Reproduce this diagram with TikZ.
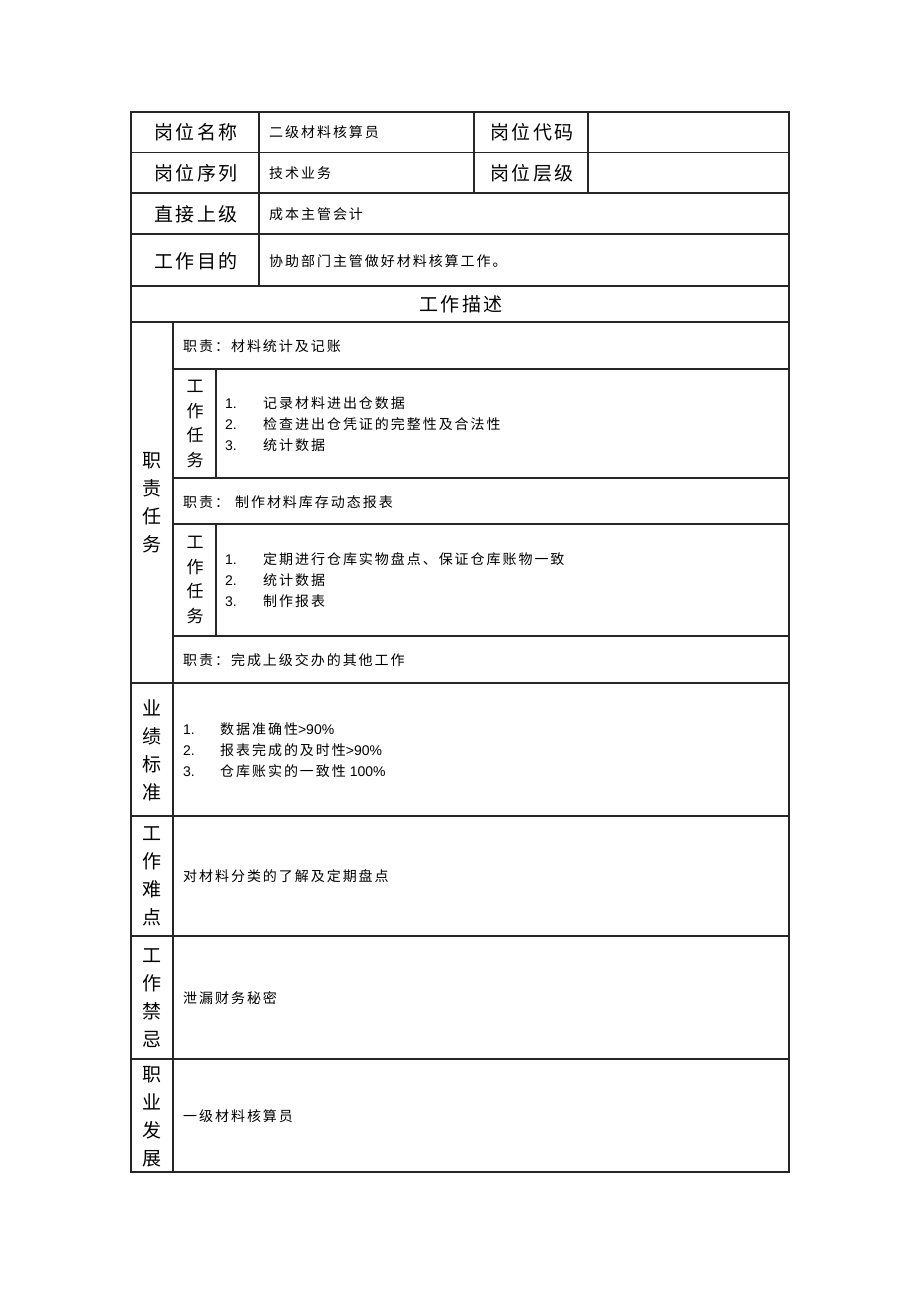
\documentclass[tikz,border=0pt]{standalone}
\usepackage{fontspec}
\setmainfont{Liberation Sans}
\newfontfamily\cjk[LetterSpace=11]{Noto Sans CJK SC}
\newfontfamily\cjkb[LetterSpace=14]{Noto Sans CJK SC}
\begin{document}
\begin{tikzpicture}[x=1pt,y=-1pt,
  grid/.style={line width=1.3pt, draw=black!85},
  lab/.style={font=\cjk\fontsize{19}{22}\selectfont, inner sep=0pt},
  txt/.style={font=\cjkb\fontsize{14}{21}\selectfont, anchor=west, inner sep=0pt},
  lst/.style={font=\fontsize{14}{21}\selectfont, anchor=west, inner sep=0pt, align=left},
  vlab/.style={font=\cjk\fontsize{19}{28}\selectfont, align=center, inner sep=0pt},
  vlabs/.style={font=\cjk\fontsize{17}{24.5}\selectfont, align=center, inner sep=0pt}]
\useasboundingbox (0,0) rectangle (920,1302);
% grid
\draw[grid] (131,112) rectangle (789,1172);
\foreach \yy in {152.5,193,234,286,322,683,816,936,1059}
  \draw[grid] (131,\yy) -- (789,\yy);
\foreach \yy in {369,478,524,636}
  \draw[grid] (173,\yy) -- (789,\yy);
\draw[grid] (259,112) -- (259,286);
\draw[grid] (474,112) -- (474,193);
\draw[grid] (588,112) -- (588,193);
\draw[grid] (173,322) -- (173,1172);
\draw[grid] (216,369) -- (216,478);
\draw[grid] (216,524) -- (216,636);
% header labels
\node[lab] (l1) at (196,132) {岗位名称};
\node[lab] (l2) at (196,173) {岗位序列};
\node[lab] (l3) at (196,214) {直接上级};
\node[lab] (l4) at (196,261) {工作目的};
\node[lab] (l5) at (532,132) {岗位代码};
\node[lab] (l6) at (532,173) {岗位层级};
\node[txt] (t1) at (269,132) {二级材料核算员};
\node[txt] (t2) at (269,173) {技术业务};
\node[txt] (t3) at (269,214) {成本主管会计};
\node[txt] (t4) at (269,261) {协助部门主管做好材料核算工作。};
\node[lab] (title) at (461,304) {工作描述};
% duties
\node[vlab] (v1) at (152,502.5) {职\\责\\任\\务};
\node[txt] (d1) at (183,346) {职责：材料统计及记账};
\node[vlabs] (w1) at (195,424) {工\\作\\任\\务};
\node[lst] (k1) at (225,424) {\makebox[38pt][l]{1.}{\cjkb 记录材料进出仓数据}\\
  \makebox[38pt][l]{2.}{\cjkb 检查进出仓凭证的完整性及合法性}\\
  \makebox[38pt][l]{3.}{\cjkb 统计数据}};
\node[txt] (d2) at (183,502) {职责：\hspace{6pt}制作材料库存动态报表};
\node[vlabs] (w2) at (195,580) {工\\作\\任\\务};
\node[lst] (k2) at (225,580) {\makebox[38pt][l]{1.}{\cjkb 定期进行仓库实物盘点、保证仓库账物一致}\\
  \makebox[38pt][l]{2.}{\cjkb 统计数据}\\
  \makebox[38pt][l]{3.}{\cjkb 制作报表}};
\node[txt] (d3) at (183,660) {职责：完成上级交办的其他工作};
% lower sections
\node[vlab] (v2) at (152,750) {业\\绩\\标\\准};
\node[lst] (k3) at (183,750) {\makebox[37pt][l]{1.}{\cjkb 数据准确性}>90\%\\
  \makebox[37pt][l]{2.}{\cjkb 报表完成的及时性}>90\%\\
  \makebox[37pt][l]{3.}{\cjkb 仓库账实的一致性} 100\%};
\node[vlab] (v3) at (152,876.5) {工\\作\\难\\点};
\node[txt] (s3) at (183,876) {对材料分类的了解及定期盘点};
\node[vlab] (v4) at (152,998.5) {工\\作\\禁\\忌};
\node[txt] (s4) at (183,998) {泄漏财务秘密};
\node[vlab] (v5) at (152,1116.5) {职\\业\\发\\展};
\node[txt] (s5) at (183,1116) {一级材料核算员};
\end{tikzpicture}
\end{document}
